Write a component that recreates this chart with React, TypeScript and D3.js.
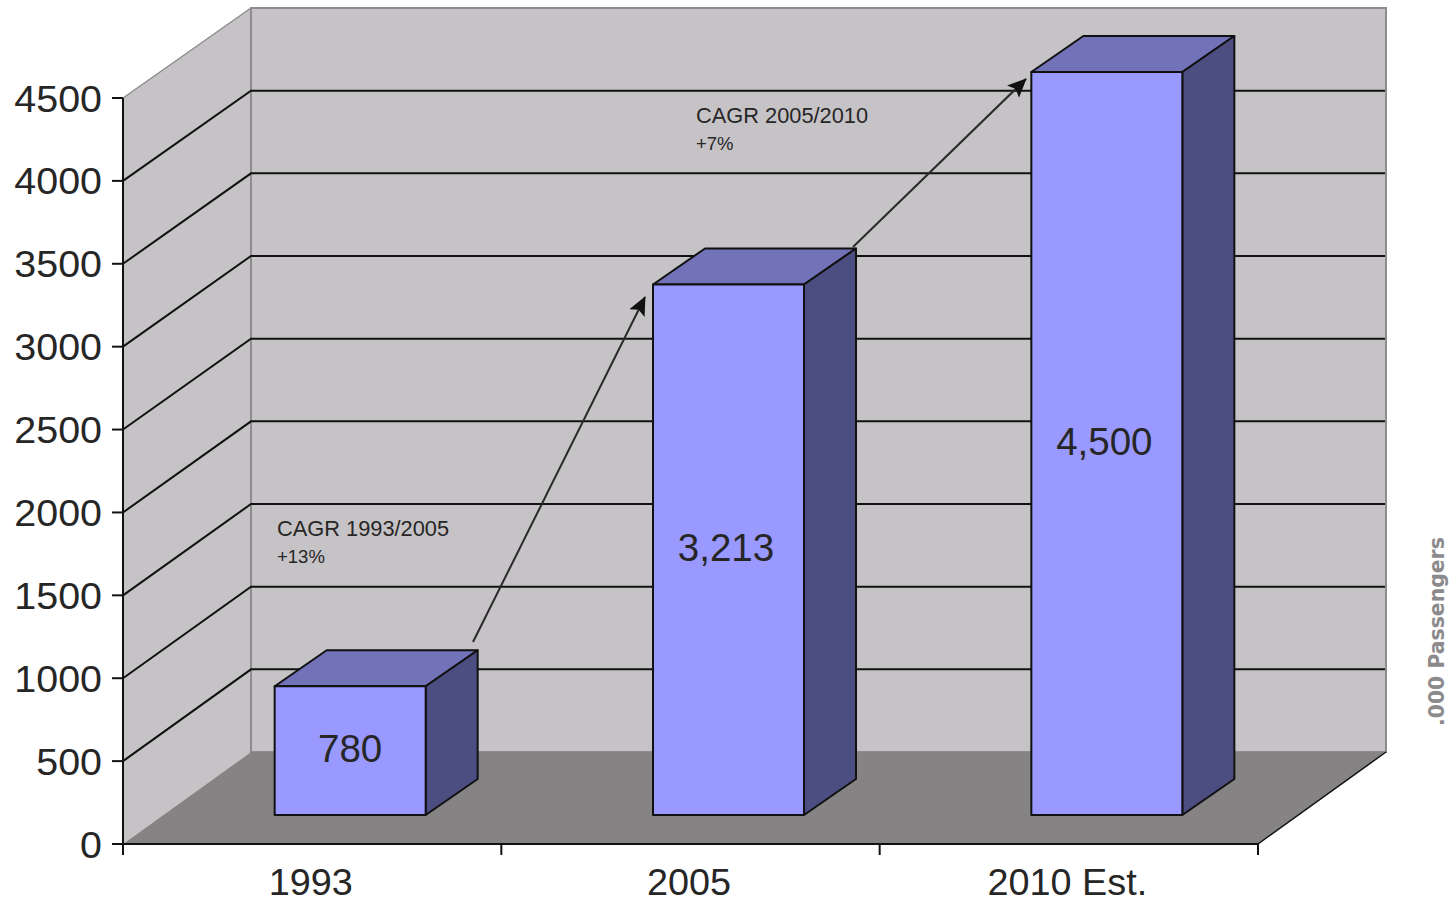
import React from "react";
import * as d3 from "d3";

// Passenger traffic, thousands
const categories = ["1993", "2005", "2010 Est."];
const passengers = [780, 3213, 4500];
const valueLabels = ["780", "3,213", "4,500"];
const yTicks = [0, 500, 1000, 1500, 2000, 2500, 3000, 3500, 4000, 4500];

const W = 1452;
const H = 902;
const FONT = "'Liberation Sans', Arial, sans-serif";

// Oblique projection of the chart box
const depthX = 128;
const barInsetX = 38;
const barDepthX = 52;
const barDepthY = -36;
const barWidth = 151;
const labelShift = [0, -2.5, -2.5];

const xFront = d3.scaleBand<string>().domain(categories).range([123, 1258]);
const yFront = d3.scaleLinear().domain([0, 4500]).range([844, 98]);
const yBack = d3.scaleLinear().domain([0, 4500]).range([752, 8]);
const yBar = d3.scaleLinear().domain([0, 4500]).range([815, 72]);

const poly = (pts: [number, number][]) => d3.line()(pts) + "Z";

const LINE = "#111";
const TEXT = "#262626";
const WALL = "#c6c3c6";
const FLOOR = "#868385";
const WALL_EDGE = "#8e8c8e";

function Arrow({ from, to }: { from: [number, number]; to: [number, number] }) {
  return (
    <line
      x1={from[0]}
      y1={from[1]}
      x2={to[0]}
      y2={to[1]}
      stroke="#2a2a2a"
      strokeWidth={2}
      markerEnd="url(#arrow-head)"
    />
  );
}

export default function App() {
  const [x0, x1] = xFront.range();
  const y0 = yFront(0);
  const yTop = yFront(4500);
  const bx0 = x0 + depthX;
  const bx1 = x1 + depthX;

  return (
    <svg
      width={W}
      height={H}
      viewBox={`0 0 ${W} ${H}`}
      style={{ position: "absolute", left: 0, top: 0, background: "#fff" }}
      fontFamily={FONT}
    >
      <defs>
        <marker
          id="arrow-head"
          viewBox="0 0 10 10"
          refX="9.5"
          refY="5"
          markerUnits="userSpaceOnUse"
          markerWidth={19}
          markerHeight={19}
          orient="auto"
        >
          <path d="M0 0.5 L10 5 L0 9.5 L2 5 Z" fill="#111" />
        </marker>
      </defs>

      {/* Left wall, back wall and floor */}
      <path
        d={poly([
          [x0, y0],
          [x0, yTop],
          [bx0, yBack(4500)],
          [bx0, yBack(0)],
        ])}
        fill={WALL}
      />
      <path
        d={poly([
          [bx0, yBack(4500)],
          [bx1, yBack(4500)],
          [bx1, yBack(0)],
          [bx0, yBack(0)],
        ])}
        fill={WALL}
        stroke={WALL_EDGE}
        strokeWidth={2}
      />
      <path
        d={poly([
          [x0, y0],
          [bx0, yBack(0)],
          [bx1, yBack(0)],
          [x1, y0],
        ])}
        fill={FLOOR}
      />
      <line x1={x1} y1={y0} x2={bx1} y2={yBack(0)} stroke={LINE} strokeWidth={1.5} />
      <line x1={bx0} y1={yBack(4500)} x2={x0} y2={yTop} stroke={WALL_EDGE} strokeWidth={1.5} />

      {/* Gridlines run along the left wall, then across the back wall */}
      {yTicks
        .filter((t) => t > 0 && t < 4500)
        .map((t) => (
          <path
            key={t}
            d={
              d3.line()([
                [x0, yFront(t)],
                [bx0, yBack(t)],
                [bx1 - 1, yBack(t)],
              ]) as string
            }
            fill="none"
            stroke={LINE}
            strokeWidth={2}
          />
        ))}

      {/* Axes */}
      <line x1={x0} y1={yTop} x2={x0} y2={y0 + 11} stroke={LINE} strokeWidth={2} />
      <line x1={x0} y1={y0} x2={x1} y2={y0} stroke={LINE} strokeWidth={2} />
      {yTicks.map((t) => (
        <g key={t}>
          <line x1={x0 - 11} x2={x0} y1={yFront(t)} y2={yFront(t)} stroke={LINE} strokeWidth={2} />
          <text
            transform={`translate(102,${yFront(t) + 13.5}) scale(1.08,1)`}
            fontSize={36.5}
            textAnchor="end"
            fill={TEXT}
          >
            {t}
          </text>
        </g>
      ))}
      {categories.map((c) => {
        const left = xFront(c) as number;
        const right = left + xFront.bandwidth();
        return (
          <g key={c}>
            <line x1={right} x2={right} y1={y0} y2={y0 + 11} stroke={LINE} strokeWidth={2} />
            <text
              transform={`translate(${left + xFront.bandwidth() / 2 - 1.5},894.5) scale(1.05,1)`}
              fontSize={36}
              textAnchor="middle"
              fill={TEXT}
            >
              {c}
            </text>
          </g>
        );
      })}

      {/* Bars */}
      {categories.map((c, i) => {
        const v = passengers[i];
        const left = (xFront(c) as number) + xFront.bandwidth() / 2 + barInsetX - barWidth / 2;
        const right = left + barWidth;
        const top = yBar(v);
        const bottom = yBar(0);
        return (
          <g key={c} stroke={LINE} strokeWidth={2} strokeLinejoin="round">
            <path
              d={poly([
                [left, top],
                [left + barDepthX, top + barDepthY],
                [right + barDepthX, top + barDepthY],
                [right, top],
              ])}
              fill="#7272b9"
            />
            <path
              d={poly([
                [right, top],
                [right + barDepthX, top + barDepthY],
                [right + barDepthX, bottom + barDepthY],
                [right, bottom],
              ])}
              fill="#4c4d80"
            />
            <rect x={left} y={top} width={barWidth} height={bottom - top} fill="#9999ff" />
            <text
              x={(left + right) / 2 + labelShift[i]}
              y={(top + bottom) / 2 + 11}
              fontSize={38.5}
              textAnchor="middle"
              fill={TEXT}
              stroke="none"
            >
              {valueLabels[i]}
            </text>
          </g>
        );
      })}

      {/* Growth annotations */}
      <Arrow from={[473, 642]} to={[645, 297]} />
      <Arrow from={[853, 247]} to={[1026, 79]} />
      <g fontSize={21.8} fill={TEXT}>
        <text x={277} y={536}>CAGR 1993/2005</text>
        <text x={277} y={563} fontSize={18.5}>+13%</text>
        <text x={696} y={123}>CAGR 2005/2010</text>
        <text x={696} y={150} fontSize={18.5}>+7%</text>
      </g>

      {/* Unit caption, rotated along the right edge */}
      <text
        transform="translate(1444,726) rotate(-90)"
        fontFamily="'DejaVu Sans', Verdana, sans-serif"
        fontWeight="bold"
        fontSize={20.4}
        fill="#8c8a8c"
      >
        .000 Passengers
      </text>
    </svg>
  );
}
